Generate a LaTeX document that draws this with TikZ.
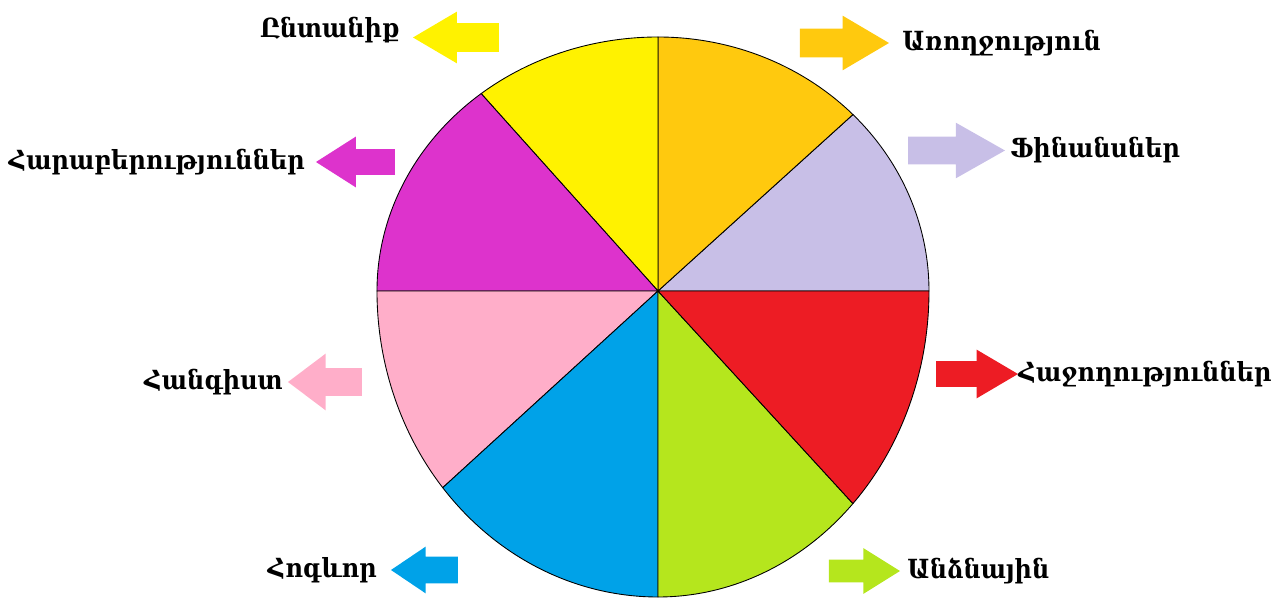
\documentclass[tikz,border=0pt]{standalone}
\usepackage{fontspec}
\setmainfont{DejaVu Serif}[FakeStretch=0.91]
\usetikzlibrary{positioning}
\usetikzlibrary{shapes.arrows}
\definecolor{cyellow}{HTML}{FFF200}
\definecolor{cgold}{HTML}{FFC90E}
\definecolor{clavender}{HTML}{C8BFE7}
\definecolor{cred}{HTML}{ED1C24}
\definecolor{clime}{HTML}{B5E61D}
\definecolor{cblue}{HTML}{00A2E8}
\definecolor{cpink}{HTML}{FFAEC9}
\definecolor{cmagenta}{HTML}{DD33CC}
\newcommand{\pxu}{0.02cm}
\tikzset{
	sector/.style={
		draw=black,
		line width=0.5pt,
		line join=round},
	blockarrow/.style={
		single arrow,
		draw=none,
		anchor=tip,
		inner xsep=0pt,
		outer sep=0pt},
	arrowsize/.style n args={5}{
		minimum height=#1*\pxu,
		minimum width=#2*\pxu,
		inner ysep=#3*\pxu/2,
		single arrow head extend=#4*\pxu,
		single arrow tip angle=#5},
	lbl/.style={
		font=\bfseries\fontsize{15}{18}\selectfont,
		inner sep=0pt}
}
\begin{document}
\begin{tikzpicture}[x=\pxu, y=\pxu]
	\useasboundingbox (-658,-307) rectangle (627,291);
	% wheel
	\filldraw[sector, fill=clavender] (0,0) -- (0:271 and 254) arc[start angle=0, end angle=44, x radius=271, y radius=254] -- cycle;
	\filldraw[sector, fill=cgold] (0,0) -- (44:271 and 254) arc[start angle=44, end angle=90, x radius=271, y radius=254] -- cycle;
	\filldraw[sector, fill=cyellow] (0,0) -- (90:281 and 254) arc[start angle=90, end angle=129, x radius=281, y radius=254] -- cycle;
	\filldraw[sector, fill=cmagenta] (0,0) -- (129:281 and 254) arc[start angle=129, end angle=180, x radius=281, y radius=254] -- cycle;
	\filldraw[sector, fill=cpink] (0,0) -- (180:281 and 306) arc[start angle=180, end angle=220, x radius=281, y radius=306] -- cycle;
	\filldraw[sector, fill=cblue] (0,0) -- (220:281 and 306) arc[start angle=220, end angle=270, x radius=281, y radius=306] -- cycle;
	\filldraw[sector, fill=clime] (0,0) -- (270:271 and 306) arc[start angle=270, end angle=316, x radius=271, y radius=306] -- cycle;
	\filldraw[sector, fill=cred] (0,0) -- (316:271 and 306) arc[start angle=316, end angle=360, x radius=271, y radius=306] -- cycle;
	% arrows (placed by their tips)
	\node[blockarrow, fill=cyellow, shape border rotate=180, arrowsize={86}{51}{28}{11.5}{61}] (yel) at (-245,253.5) {};
	\node[blockarrow, fill=cgold, arrowsize={89}{54}{28}{13}{61}] (gold) at (231,248) {};
	\node[blockarrow, fill=clavender, arrowsize={97}{55}{27}{14}{59}] (lav) at (347,140.5) {};
	\node[blockarrow, fill=cmagenta, shape border rotate=180, arrowsize={79}{50}{25}{12.5}{65}] (mag) at (-342,129) {};
	\node[blockarrow, fill=cred, arrowsize={82}{48}{25}{11.5}{61}] (red) at (360,-83) {};
	\node[blockarrow, fill=cpink, shape border rotate=180, arrowsize={74}{56}{27}{14.5}{74}] (pink) at (-370,-91) {};
	\node[blockarrow, fill=cblue, shape border rotate=180, arrowsize={67}{46}{26}{10}{68}] (blue) at (-267,-279) {};
	\node[blockarrow, fill=clime, arrowsize={71}{45}{22}{11.5}{64}] (lime) at (242,-280) {};
	% labels
	\node[lbl, left=0.26cm of yel.tip, yshift=7*\pxu] (family) {Ընտանիք};
	\node[lbl, right=0.26cm of gold.tip] (health) {Առողջություն};
	\node[lbl, right=0.1cm of lav.tip] (finance) {Ֆինանսներ};
	\node[lbl, left=0.22cm of mag.tip] (relations) {Հարաբերություններ};
	\node[lbl, right=0cm of red.tip] (success) {Հաջողություններ};
	\node[lbl, left=0.1cm of pink.tip] (rest) {Հանգիստ};
	\node[lbl, left=0.28cm of blue.tip] (spirit) {Հոգևոր};
	\node[lbl, right=0.14cm of lime.tip] (personal) {Անձնային};
\end{tikzpicture}
\end{document}
